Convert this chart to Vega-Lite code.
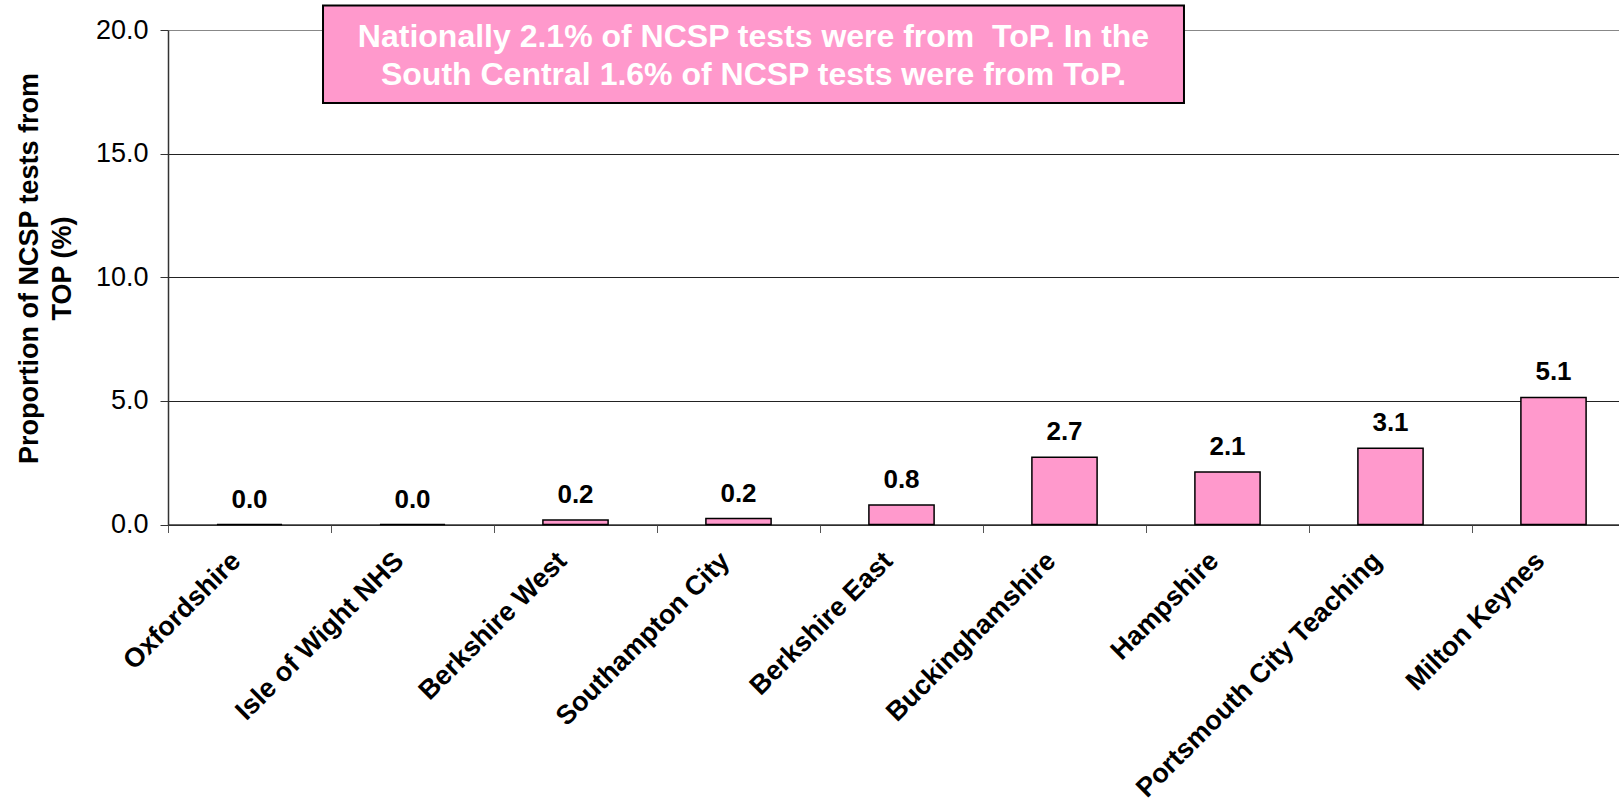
{
  "$schema": "https://vega.github.io/schema/vega-lite/v6.json",
  "width": 1451,
  "height": 494.5,
  "autosize": {"type": "none"},
  "padding": {"left": 168, "top": 30, "right": 0, "bottom": 283.5},
  "background": "white",
  "config": {"view": {"stroke": null}, "font": "Liberation Sans"},
  "data": {
    "values": [
      {"region": "Oxfordshire", "value": 0.0},
      {"region": "Isle of Wight NHS", "value": 0.0},
      {"region": "Berkshire West", "value": 0.18},
      {"region": "Southampton City", "value": 0.24},
      {"region": "Berkshire East", "value": 0.79},
      {"region": "Buckinghamshire", "value": 2.72},
      {"region": "Hampshire", "value": 2.12},
      {"region": "Portsmouth City Teaching", "value": 3.08},
      {"region": "Milton Keynes", "value": 5.14}
    ]
  },
  "layer": [
    {
      "layer": [
        {
          "mark": {"type": "bar", "fill": "#FF99CC", "stroke": "#000", "strokeWidth": 1.5, "width": {"band": 0.4}},
          "encoding": {
            "x": {
              "field": "region", "type": "nominal", "sort": null,
              "scale": {"range": [0, 1467], "paddingInner": 0, "paddingOuter": 0},
              "axis": {
                "title": null, "bandPosition": 0, "labelAngle": -45, "labelAlign": "right",
                "labelBaseline": "middle", "labelOffset": -13, "labelPadding": 24,
                "labelFontSize": 27, "labelFontWeight": "bold", "labelColor": "#000",
                "labelLimit": 500, "labelOverlap": false, "tickSize": 8, "tickColor": "#555",
                "domainColor": "#333", "domainWidth": 1.5, "grid": false
              }
            },
            "y": {
              "field": "value", "type": "quantitative",
              "scale": {"domain": [0, 20], "nice": false},
              "axis": {
                "values": [0, 5, 10, 15, 20], "format": ".1f", "grid": true,
                "gridColor": {"condition": {"test": "datum.value == 20", "value": "#888"}, "value": "#222"},
                "gridWidth": 1.2, "domainColor": "#333", "domainWidth": 1.5,
                "tickColor": "#333", "tickSize": 8, "labelFontSize": 27, "labelColor": "#000",
                "labelPadding": 12, "title": ["Proportion of NCSP tests from", "TOP (%)"],
                "titleFontSize": 27, "titleFontWeight": "bold", "titleColor": "#000",
                "titlePadding": 19, "titleLineHeight": 33, "titleY": 238
              }
            }
          }
        },
        {
          "mark": {"type": "text", "fontWeight": "bold", "fontSize": 26, "dy": -25, "baseline": "middle", "color": "#000"},
          "encoding": {
            "x": {"field": "region", "type": "nominal", "sort": null},
            "y": {"field": "value", "type": "quantitative"},
            "text": {"field": "value", "type": "quantitative", "format": ".1f"}
          }
        }
      ]
    },
    {
      "data": {"values": [{"note": "annotation"}]},
      "layer": [
        {
          "mark": {"type": "rect", "fill": "#FF99CC", "stroke": "#000", "strokeWidth": 2},
          "encoding": {
            "x": {"datum": 0.951, "type": "quantitative", "scale": {"domain": [0, 9], "range": [0, 1467]}, "axis": null},
            "x2": {"datum": 6.233},
            "y": {"datum": 20.99, "type": "quantitative"},
            "y2": {"datum": 17.05}
          }
        },
        {
          "mark": {
            "type": "text", "fontWeight": "bold", "fontSize": 32, "color": "white",
            "align": "center", "baseline": "middle", "lineHeight": 38,
            "text": ["Nationally 2.1% of NCSP tests were from \u00a0ToP. In the", "South Central 1.6% of NCSP tests were from ToP."]
          },
          "encoding": {
            "x": {"datum": 3.592, "type": "quantitative"},
            "y": {"datum": 19.72, "type": "quantitative"}
          }
        }
      ]
    }
  ],
  "resolve": {"scale": {"x": "independent"}}
}
